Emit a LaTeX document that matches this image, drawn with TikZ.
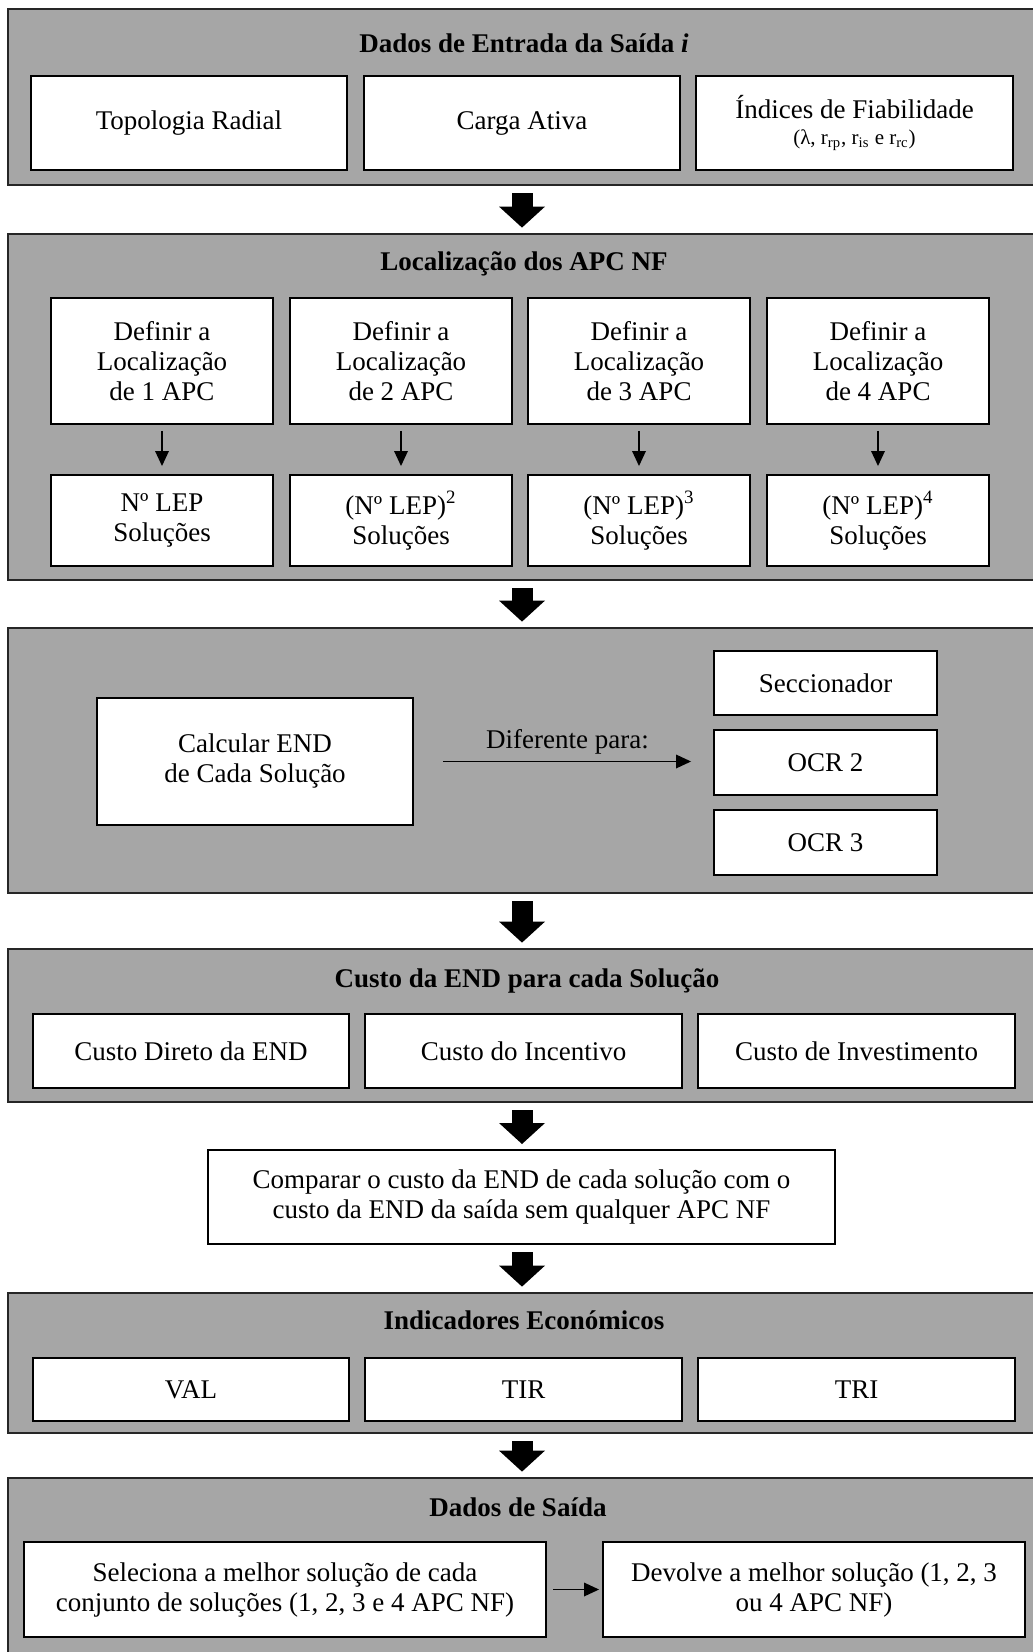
\documentclass[tikz,border=0pt]{standalone}
\usepackage{fontspec}
\setmainfont{Liberation Serif}
\usetikzlibrary{arrows.meta,fit}
\definecolor{panelfill}{RGB}{166,166,166}
\definecolor{paneledge}{RGB}{38,38,38}
% a white box given by its corner coordinates: [options]{name}{x1}{y1}{x2}{y2}{text}
\newcommand\stagebox[7][]{%
  \node[box,#1, minimum width={0.5pt*(#5-#3)}, minimum height={0.5pt*(#6-#4)}]
    (#2) at ({(#3+#5)/2},{(#4+#6)/2}) {#7};}
\begin{document}
\begin{tikzpicture}[x=0.5pt,y=-0.5pt,
  panel/.style={draw=paneledge, line width=1.4pt, fill=panelfill, inner sep=0pt},
  box/.style={draw=black, line width=1pt, fill=white, inner sep=0pt, align=center,
    font=\fontsize{13.5}{15}\selectfont},
  heading/.style={inner sep=0pt, font=\fontsize{13.5}{15}\selectfont\bfseries},
  plain/.style={inner sep=0pt, font=\fontsize{13.5}{15}\selectfont},
  bigarrow/.style={draw=black, line width=10.5pt,
    -{Triangle[length=10.5pt 0 0, width=23pt 0 0, line width=0pt 0 0]},
    shorten <=3.5pt, shorten >=2.5pt},
  thinarrow/.style={draw=black, line width=0.75pt,
    -{Triangle[length=7.5pt 0 0, width=7pt 0 0, line width=0pt 0 0]}}
]
\useasboundingbox (0,0) rectangle (1032,1652);
\coordinate (axis) at (522,0);

% --- input data
\node[panel, fit={(8,9) (1045,185)}] (p1) {};
\node[heading] (t1) at (524,43) {Dados de Entrada da Saída \textit{i}};
\stagebox{topo}{31}{76}{347}{170}{Topologia Radial}
\stagebox{carga}{364}{76}{680}{170}{Carga Ativa}
\stagebox{indices}{696}{76}{1013}{170}{Índices de Fiabilidade\\[-2pt]
  {\fontsize{10.5}{12}\selectfont (λ, r\textsubscript{rp}, r\textsubscript{is} e r\textsubscript{rc})}}

% --- location of the devices
\node[panel, fit={(8,234) (1045,580)}] (p2) {};
\node[heading] (t2) at (524,264) {Localização dos APC NF};
\stagebox{d1}{51}{298}{273}{424}{Definir a\\Localização\\de 1 APC}
\stagebox{d2}{290}{298}{512}{424}{Definir a\\Localização\\de 2 APC}
\stagebox{d3}{528}{298}{750}{424}{Definir a\\Localização\\de 3 APC}
\stagebox{d4}{767}{298}{989}{424}{Definir a\\Localização\\de 4 APC}
\stagebox{s1}{51}{475}{273}{566}{Nº LEP\\Soluções}
\stagebox{s2}{290}{475}{512}{566}{(Nº LEP)\textsuperscript{2}\\Soluções}
\stagebox{s3}{528}{475}{750}{566}{(Nº LEP)\textsuperscript{3}\\Soluções}
\stagebox{s4}{767}{475}{989}{566}{(Nº LEP)\textsuperscript{4}\\Soluções}
\foreach \i in {1,2,3,4}
  \draw[thinarrow, shorten <=3pt, shorten >=4pt] (d\i) -- (s\i);

% --- energy not supplied per solution
\node[panel, fit={(8,628) (1045,893)}] (p3) {};
\stagebox{calc}{97}{698}{413}{825}{Calcular END\\de Cada Solução}
\stagebox{secc}{714}{651}{937}{715}{Seccionador}
\stagebox{ocr2}{714}{730}{937}{795}{OCR 2}
\stagebox{ocr3}{714}{810}{937}{875}{OCR 3}
\draw[thinarrow, shorten <=14.5pt, shorten >=11pt] (calc.east) -- (calc.east -| ocr2.west)
  node[plain, midway, yshift=10pt, xshift=2pt] (dif) {Diferente para:};

% --- costs
\node[panel, fit={(8,949) (1045,1102)}] (p4) {};
\node[heading] (t4) at (527,981) {Custo da END para cada Solução};
\stagebox{cdir}{33}{1014}{349}{1088}{Custo Direto da END}
\stagebox{cinc}{365}{1014}{682}{1088}{Custo do Incentivo}
\stagebox{cinv}{698}{1014}{1015}{1088}{Custo de Investimento}

\stagebox{comp}{208}{1150}{835}{1244}
  {Comparar o custo da END de cada solução com o\\custo da END da saída sem qualquer APC NF}

% --- economic indicators
\node[panel, fit={(8,1293) (1045,1433)}] (p5) {};
\node[heading] (t5) at (524,1320) {Indicadores Económicos};
\stagebox{val}{33}{1358}{349}{1421}{VAL}
\stagebox{tir}{365}{1358}{682}{1421}{TIR}
\stagebox{tri}{698}{1358}{1015}{1421}{TRI}

% --- output data
\node[panel, fit={(8,1478) (1045,1680)}] (p6) {};
\node[heading] (t6) at (518,1507) {Dados de Saída};
\stagebox{sel}{24}{1542}{546}{1637}
  {Seleciona a melhor solução de cada\\conjunto de soluções (1, 2, 3 e 4 APC NF)}
\stagebox{dev}{603}{1542}{1025}{1637}
  {Devolve a melhor solução (1, 2, 3\\ou 4 APC NF)}
\draw[thinarrow, shorten <=3pt, shorten >=1.5pt] (sel) -- (dev);

% --- flow between stages
\draw[bigarrow] (p1.south -| axis) -- (p2.north -| axis);
\draw[bigarrow] (p2.south -| axis) -- (p3.north -| axis);
\draw[bigarrow] (p3.south -| axis) -- (p4.north -| axis);
\draw[bigarrow] (p4.south -| axis) -- (comp.north -| axis);
\draw[bigarrow] (comp.south -| axis) -- (p5.north -| axis);
\draw[bigarrow] (p5.south -| axis) -- (p6.north -| axis);
\end{tikzpicture}
\end{document}
